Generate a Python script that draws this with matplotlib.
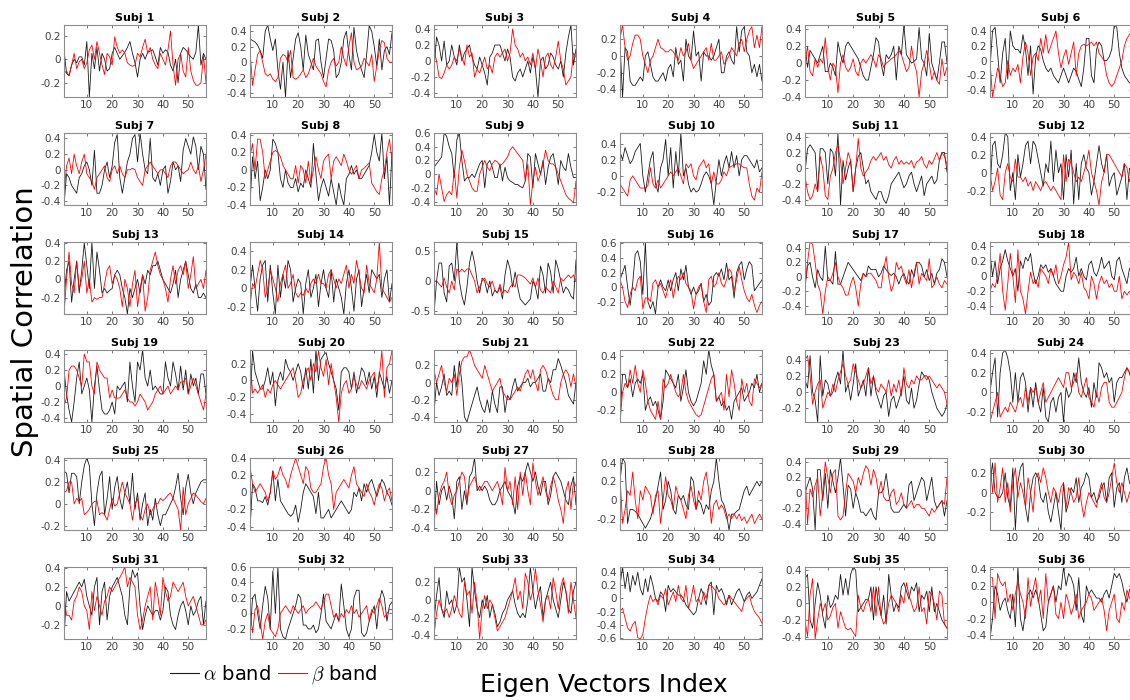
import numpy as np
import matplotlib
matplotlib.use("Agg")
import matplotlib.pyplot as plt
from matplotlib.ticker import MultipleLocator, FuncFormatter
from matplotlib.lines import Line2D

plt.rcParams['mathtext.fontset'] = 'cm'
plt.rcParams['axes.unicode_minus'] = False

# spatial correlation per eigen vector (1..57), alpha band / beta band, per subject
alpha_01 = [0.08,-0.12,-0.14,-0.05,0.0,-0.03,0.02,0.02,-0.05,0.15,-0.32,0.05,-0.08,0.1,-0.1,0.05,0.0,-0.1,-0.08,0.05,0.1,0.05,0.0,0.03,0.06,0.1,0.15,0.05,-0.03,-0.15,0.0,0.05,0.0,0.06,0.07,0.08,0.02,-0.05,0.1,0.05,0.08,0.06,-0.05,-0.1,0.0,-0.2,0.05,0.1,0.08,0.05,0.02,0.0,0.06,0.29,-0.05,0.05,0.0]
beta_01 = [-0.12,-0.1,-0.14,-0.05,0.05,-0.08,-0.02,0.0,-0.08,-0.03,0.08,0.12,0.0,0.15,0.05,-0.05,-0.13,0.05,0.02,-0.05,0.19,0.1,0.05,0.08,0.05,-0.03,-0.05,-0.06,-0.05,0.05,0.02,0.1,0.17,0.05,0.1,0.0,-0.05,-0.08,0.05,0.0,-0.05,0.08,0.24,-0.05,-0.22,0.0,0.05,-0.1,-0.15,0.1,-0.1,-0.18,-0.22,-0.22,-0.2,0.03,-0.2]
alpha_02 = [0.3,0.28,0.26,0.22,0.15,0.05,0.4,0.48,0.3,0.15,0.3,-0.1,-0.35,0.0,-0.45,0.15,-0.2,0.05,0.3,0.38,0.2,-0.1,0.35,0.1,0.0,-0.1,0.28,0.3,0.0,-0.2,0.05,0.3,0.28,0.15,-0.2,-0.15,0.0,0.3,0.4,0.1,-0.1,0.45,0.15,0.0,-0.1,-0.2,0.1,0.47,0.4,0.2,-0.05,0.3,-0.1,0.15,0.2,0.1,0.38]
beta_02 = [0.15,-0.3,-0.1,0.1,0.15,0.0,-0.15,-0.18,-0.15,-0.22,-0.25,-0.2,0.05,0.1,0.08,0.0,0.15,-0.2,-0.22,-0.2,-0.15,-0.1,-0.2,-0.15,-0.05,0.05,-0.05,-0.1,-0.15,-0.25,-0.32,-0.1,0.0,0.05,-0.05,0.0,0.2,0.05,-0.05,0.2,0.38,0.0,-0.1,-0.08,-0.05,0.05,0.0,-0.05,0.1,-0.25,-0.05,0.15,0.28,0.25,0.05,0.0,0.0]
alpha_03 = [-0.1,0.3,0.2,0.0,0.25,-0.05,0.0,0.2,0.05,-0.05,0.2,0.0,0.1,0.15,0.2,0.05,-0.05,-0.1,0.05,-0.05,-0.15,-0.3,0.05,0.1,0.2,0.2,0.2,0.1,0.0,0.15,0.05,-0.2,-0.25,-0.15,-0.1,-0.2,-0.1,0.0,-0.15,0.05,-0.1,-0.45,0.0,0.05,-0.1,-0.05,0.1,0.05,-0.05,-0.1,0.0,-0.2,0.1,0.3,0.45,-0.05,0.15]
beta_03 = [0.15,0.0,-0.2,-0.22,-0.15,-0.05,-0.1,-0.05,0.05,0.0,0.15,0.05,-0.05,0.2,0.05,0.1,-0.2,-0.1,-0.15,-0.05,0.05,-0.1,-0.05,-0.15,0.05,0.1,0.05,0.1,0.15,0.0,0.1,0.4,0.2,0.15,0.05,0.1,0.0,0.05,-0.05,0.1,-0.1,0.15,0.0,-0.2,0.05,0.1,-0.05,-0.1,0.05,0.25,0.0,-0.1,-0.3,-0.25,-0.2,0.1,0.05]
alpha_04 = [0.15,-0.49,0.1,0.05,-0.3,-0.35,-0.35,-0.3,-0.25,-0.3,0.0,0.05,-0.1,-0.25,-0.3,-0.3,-0.25,-0.2,-0.3,-0.15,-0.1,-0.25,0.1,-0.1,-0.05,-0.3,0.2,0.0,-0.05,0.3,0.0,0.05,-0.3,0.05,0.0,0.0,-0.05,0.0,0.1,0.2,-0.2,-0.2,0.0,0.05,-0.05,-0.1,0.35,0.05,0.3,0.35,0.05,0.0,-0.2,-0.1,-0.25,-0.1,-0.3]
beta_04 = [0.2,0.37,0.1,-0.05,0.0,0.15,0.25,0.25,0.2,0.0,-0.1,-0.2,-0.05,0.0,0.1,0.2,0.1,0.08,0.05,0.05,0.08,0.05,0.0,-0.05,0.1,0.0,0.05,0.15,-0.05,-0.15,-0.1,-0.05,0.0,0.05,0.1,-0.05,0.15,-0.05,-0.05,0.0,0.05,-0.1,-0.05,0.0,0.1,0.05,0.0,0.15,0.2,0.05,0.2,0.3,0.35,0.1,0.25,0.1,0.35]
alpha_05 = [0.2,-0.05,0.15,0.1,0.05,0.0,0.1,0.2,-0.1,-0.1,0.0,-0.05,-0.15,0.25,0.1,0.0,0.2,0.25,0.2,0.15,0.1,0.05,-0.05,-0.15,-0.2,-0.2,-0.05,0.1,0.3,0.25,0.0,-0.15,0.1,0.05,0.1,0.2,-0.2,0.2,0.1,0.45,0.1,0.05,0.0,0.02,0.05,0.42,0.05,0.0,-0.15,0.35,0.0,-0.1,-0.2,0.0,0.25,0.25,0.0]
beta_05 = [0.0,0.2,-0.1,-0.15,0.05,-0.05,0.05,0.0,0.3,-0.05,-0.2,0.0,-0.05,-0.35,0.0,0.1,-0.05,-0.1,-0.05,0.05,-0.1,-0.15,0.0,0.05,0.0,0.05,0.1,0.05,-0.05,0.1,0.05,-0.05,0.0,0.02,0.05,0.07,0.1,0.15,0.1,0.0,-0.1,-0.05,0.2,0.0,-0.1,-0.4,-0.1,0.0,0.15,0.0,-0.2,-0.1,-0.2,-0.25,0.05,-0.15,-0.05]
alpha_06 = [-0.1,0.4,0.45,0.1,-0.3,0.1,0.3,-0.25,0.4,0.2,0.15,0.15,0.1,0.35,0.15,-0.2,0.2,-0.45,0.05,0.2,0.15,0.0,-0.1,-0.15,-0.1,-0.2,-0.25,-0.3,-0.2,-0.1,-0.2,-0.3,-0.2,-0.1,-0.15,-0.25,-0.35,-0.1,0.3,0.3,-0.2,-0.3,0.15,0.25,0.2,0.0,0.0,0.05,0.15,0.48,0.45,0.1,-0.1,-0.2,-0.25,-0.3,-0.3]
beta_06 = [0.0,-0.49,-0.3,-0.1,-0.2,-0.35,-0.3,0.0,-0.2,-0.1,-0.15,-0.05,-0.3,0.05,0.25,0.1,-0.2,0.05,0.1,0.0,0.3,0.1,0.35,0.1,0.2,0.3,0.4,0.1,-0.1,0.05,0.15,-0.05,0.1,0.25,-0.2,0.1,0.2,0.22,0.2,0.22,0.25,0.2,0.25,0.1,0.05,0.0,-0.2,-0.3,-0.35,-0.3,-0.2,-0.1,0.0,0.2,0.3,0.35,0.4]
alpha_07 = [-0.45,-0.05,-0.1,-0.2,-0.25,-0.3,-0.1,-0.05,0.05,0.1,0.0,-0.2,0.25,-0.3,-0.3,-0.2,0.0,0.1,-0.1,0.05,0.35,0.45,-0.1,-0.3,-0.1,0.1,0.2,0.4,0.45,0.1,0.47,0.2,0.0,-0.05,0.4,-0.1,-0.15,-0.05,-0.2,0.0,0.05,-0.3,-0.15,0.1,0.0,0.05,-0.15,0.25,0.4,0.3,0.2,0.42,0.3,0.0,0.3,0.2,-0.25]
beta_07 = [-0.3,0.05,0.15,-0.05,0.2,0.05,-0.05,0.1,0.2,-0.05,-0.1,-0.15,-0.25,-0.1,-0.05,0.0,0.05,-0.1,-0.15,0.0,0.05,-0.05,0.05,-0.05,-0.1,0.0,0.0,0.02,0.0,-0.1,-0.15,-0.2,0.0,0.05,0.1,0.05,0.0,-0.05,0.0,0.0,-0.05,-0.1,0.05,0.1,0.1,0.05,0.0,-0.05,-0.02,0.0,0.1,0.0,-0.05,0.05,-0.15,0.0,0.2]
alpha_08 = [-0.4,0.15,-0.1,0.1,-0.35,-0.2,0.0,-0.1,0.0,0.35,0.3,0.2,-0.1,-0.2,0.0,-0.15,-0.2,-0.2,-0.1,-0.25,-0.15,-0.2,0.0,-0.1,-0.2,0.3,-0.05,-0.35,-0.2,-0.1,-0.2,-0.3,-0.1,-0.25,-0.4,-0.15,-0.3,-0.4,-0.1,-0.05,0.05,-0.05,0.0,-0.1,-0.1,-0.05,0.0,0.05,0.2,0.4,0.2,0.1,0.42,-0.1,0.15,-0.4,0.2]
beta_08 = [0.15,0.3,0.0,0.35,0.35,0.2,-0.1,0.0,0.1,0.2,0.22,0.2,0.15,0.05,0.0,-0.05,-0.1,-0.1,0.05,-0.15,0.05,0.0,-0.15,0.1,-0.15,0.0,0.15,0.0,-0.1,0.1,0.15,0.18,-0.1,0.1,0.15,0.1,0.05,0.18,0.1,0.0,-0.05,0.0,0.05,-0.1,0.0,0.02,0.05,0.08,-0.15,-0.2,-0.25,-0.28,-0.1,0.0,0.2,0.35,0.1]
alpha_09 = [0.1,0.15,0.2,0.25,0.6,0.55,0.4,0.3,-0.05,0.5,0.6,0.2,-0.1,-0.05,-0.05,0.0,-0.05,0.05,0.15,0.2,-0.2,0.15,0.2,0.1,-0.05,-0.05,0.15,-0.1,0.1,-0.05,-0.1,-0.12,-0.15,-0.15,-0.18,-0.2,-0.1,0.3,0.25,-0.2,0.3,0.15,0.0,0.2,-0.15,0.1,0.25,0.3,0.1,-0.15,0.2,0.1,0.05,0.3,0.1,-0.05,-0.05]
beta_09 = [-0.2,-0.3,0.0,-0.2,-0.4,-0.3,-0.25,-0.3,0.05,-0.35,0.1,0.35,0.2,0.0,-0.1,-0.2,-0.25,-0.25,0.0,0.1,0.2,0.1,0.05,0.15,0.2,0.18,0.12,0.15,0.2,0.25,0.35,0.4,0.35,0.3,0.25,0.2,-0.1,0.15,-0.45,-0.1,0.1,-0.1,0.0,0.15,0.35,0.2,0.15,0.15,0.1,0.0,-0.1,-0.2,-0.3,-0.35,-0.38,-0.42,-0.1]
alpha_10 = [0.3,0.2,0.35,0.25,0.15,0.2,0.3,0.35,0.4,0.0,-0.2,0.0,0.2,0.3,-0.1,-0.2,0.1,0.2,0.45,0.0,0.35,-0.15,0.3,0.0,0.53,0.0,0.1,-0.1,-0.2,-0.15,-0.2,-0.18,-0.1,0.0,0.05,0.0,-0.1,-0.36,-0.05,0.2,0.0,0.15,0.25,0.1,0.3,0.1,0.25,0.0,0.2,0.25,0.25,0.2,0.15,0.1,0.2,0.05,0.1]
beta_10 = [-0.1,-0.15,-0.2,-0.25,-0.05,0.0,-0.05,-0.1,-0.15,-0.15,-0.15,-0.12,0.1,-0.1,-0.15,-0.05,-0.15,-0.1,-0.05,0.0,0.05,0.0,0.05,0.1,0.0,-0.1,0.15,0.1,0.15,0.0,-0.05,0.1,0.15,0.2,0.1,0.15,-0.1,0.05,-0.1,-0.1,-0.05,0.05,0.0,0.1,0.12,0.13,0.15,0.15,0.12,0.1,0.1,-0.1,-0.25,-0.3,-0.15,-0.2,0.05]
alpha_11 = [-0.05,0.25,0.3,0.25,0.2,-0.3,0.25,0.25,0.2,-0.2,0.25,0.2,-0.1,0.45,-0.47,0.1,-0.15,0.0,0.1,-0.3,0.0,0.15,0.2,0.0,-0.2,-0.15,-0.3,-0.35,-0.4,-0.3,-0.3,-0.4,-0.45,-0.35,-0.2,-0.15,-0.1,-0.05,-0.15,-0.25,-0.2,-0.1,-0.05,-0.2,-0.3,-0.2,-0.1,-0.35,-0.2,-0.15,-0.1,-0.2,-0.15,0.1,0.2,0.2,-0.05]
beta_11 = [-0.1,-0.3,-0.4,-0.35,-0.2,-0.3,0.15,0.0,-0.35,-0.4,-0.1,0.0,0.2,0.3,0.1,-0.2,0.0,0.2,0.1,-0.3,0.0,0.38,0.0,-0.1,-0.05,0.0,0.1,0.15,0.1,0.15,0.2,0.1,0.15,0.05,0.0,0.1,0.15,0.05,0.1,0.05,0.08,0.05,0.1,0.0,0.08,0.1,0.15,0.05,0.0,0.1,0.05,0.12,0.2,0.1,0.2,0.15,0.05]
alpha_12 = [-0.2,0.3,0.35,0.1,0.05,0.2,0.44,0.4,-0.2,0.0,-0.3,0.2,-0.05,0.1,0.3,0.35,0.1,0.35,0.3,0.15,0.0,-0.15,0.1,0.0,0.35,-0.1,0.25,0.0,0.1,-0.3,0.2,-0.05,0.25,-0.35,0.1,-0.3,0.1,0.2,0.05,0.0,-0.25,-0.1,0.1,0.3,0.1,0.0,0.2,-0.15,-0.05,0.0,-0.25,-0.15,-0.05,0.1,-0.3,0.05,0.0]
beta_12 = [0.0,-0.2,-0.1,0.05,-0.25,-0.3,0.0,0.1,-0.05,-0.1,0.15,-0.05,-0.05,-0.1,-0.05,-0.15,-0.1,-0.2,-0.1,-0.15,-0.2,-0.12,-0.1,-0.15,-0.2,-0.15,-0.2,-0.25,-0.3,0.2,-0.1,0.15,0.1,0.0,-0.1,-0.05,-0.1,0.0,0.1,0.25,0.0,-0.1,-0.2,-0.36,-0.1,0.0,0.2,0.2,0.15,0.1,0.05,0.0,-0.05,0.1,0.05,-0.1,0.0]
alpha_13 = [-0.2,0.1,0.2,-0.25,0.0,0.2,-0.15,0.1,0.4,0.15,-0.1,0.41,-0.1,0.3,0.1,-0.15,-0.1,-0.15,-0.12,-0.1,0.05,0.1,0.05,-0.1,-0.2,-0.38,-0.1,-0.2,-0.1,0.0,-0.15,0.05,-0.05,0.1,0.05,0.15,0.15,0.2,0.1,0.0,-0.05,-0.1,-0.15,-0.05,0.1,-0.2,0.0,0.1,0.2,0.05,-0.1,-0.15,-0.05,-0.2,-0.2,-0.15,-0.2]
beta_13 = [-0.38,0.0,0.3,-0.05,-0.15,0.2,-0.1,0.0,0.2,-0.15,0.0,-0.25,-0.2,-0.22,-0.2,-0.2,-0.05,0.1,0.15,-0.05,0.05,0.0,-0.1,-0.3,0.0,-0.1,-0.3,-0.05,0.1,-0.3,-0.1,0.05,-0.35,-0.2,0.1,0.2,0.3,0.15,0.05,0.0,-0.1,-0.25,0.0,0.15,-0.05,0.1,0.15,0.05,0.2,-0.1,0.05,0.25,-0.1,-0.05,0.0,-0.1,0.1]
alpha_14 = [0.0,0.25,0.0,-0.25,0.1,0.25,0.3,-0.15,0.25,-0.05,-0.28,0.25,-0.1,0.15,0.0,0.3,0.2,-0.15,0.0,0.1,0.05,-0.28,0.05,0.2,-0.1,0.0,0.15,-0.2,0.05,0.2,0.0,-0.1,0.2,-0.15,0.1,0.0,-0.1,-0.28,0.05,0.2,0.0,-0.25,0.1,0.2,-0.2,0.0,0.15,-0.05,0.2,0.15,0.1,0.15,-0.1,0.1,0.2,-0.15,0.05]
beta_14 = [-0.2,0.05,0.0,0.15,0.3,0.2,-0.1,0.0,0.2,0.1,0.0,-0.15,0.05,0.15,0.25,0.0,0.05,0.15,-0.05,-0.1,-0.05,-0.08,0.0,-0.05,0.05,0.1,0.05,0.15,0.05,0.05,0.0,0.15,0.2,0.1,0.0,0.1,0.05,0.15,0.25,0.0,0.15,0.05,0.3,0.15,0.0,-0.05,0.25,0.05,0.0,-0.05,0.1,0.5,0.0,-0.05,-0.1,-0.15,-0.1]
alpha_15 = [-0.55,0.0,0.3,0.3,-0.2,-0.35,0.25,0.3,0.0,0.65,0.0,-0.25,-0.4,-0.1,0.3,0.5,0.3,0.0,-0.2,0.05,0.0,-0.2,0.0,-0.25,-0.15,-0.2,-0.1,-0.3,0.1,0.35,0.2,-0.1,0.15,-0.1,-0.3,-0.35,-0.4,-0.35,-0.3,0.0,-0.1,-0.3,0.25,0.1,-0.2,0.3,0.15,-0.2,0.35,0.2,0.0,-0.2,-0.1,-0.15,-0.25,-0.3,0.35]
beta_15 = [0.0,0.0,-0.05,-0.1,0.05,-0.1,-0.2,0.0,-0.15,0.2,0.15,0.2,0.15,0.2,0.2,0.1,0.0,-0.2,-0.1,0.0,0.05,-0.05,-0.1,0.0,-0.15,-0.2,-0.05,-0.2,-0.15,-0.2,-0.1,-0.05,-0.1,0.1,0.1,0.08,0.05,0.0,-0.05,0.05,-0.1,0.05,-0.15,-0.2,-0.1,-0.15,-0.2,0.0,-0.1,-0.2,0.05,0.0,0.05,0.1,0.05,0.1,0.0]
alpha_16 = [0.1,0.2,0.3,0.0,-0.25,0.05,0.45,0.5,0.35,-0.1,0.62,-0.2,-0.3,-0.2,-0.37,0.0,0.1,0.0,-0.05,0.1,-0.05,0.1,0.2,-0.05,0.25,0.1,0.3,0.0,-0.1,0.0,-0.1,-0.05,0.05,-0.2,-0.1,-0.25,-0.2,0.15,0.2,0.15,0.25,0.1,0.33,0.1,0.15,-0.15,0.2,0.3,0.35,0.1,0.25,0.35,0.3,-0.05,0.0,0.05,0.1]
beta_16 = [0.1,0.0,-0.2,-0.28,-0.1,0.0,-0.05,0.1,0.15,-0.3,-0.15,-0.15,-0.2,0.05,0.1,0.0,0.05,-0.05,-0.15,0.0,0.1,-0.15,0.05,0.15,0.1,0.2,0.05,0.0,-0.05,-0.3,-0.1,0.0,0.05,-0.2,-0.35,0.1,0.15,0.0,0.05,0.2,0.05,0.0,0.1,0.25,0.2,-0.05,0.1,0.28,0.1,-0.05,-0.15,-0.2,-0.1,-0.25,-0.35,-0.25,-0.2]
alpha_17 = [-0.15,0.15,0.2,0.0,-0.15,0.1,0.0,-0.05,0.42,-0.05,-0.05,-0.1,0.35,-0.1,-0.1,0.0,0.1,0.2,0.15,0.1,0.05,0.0,-0.05,0.05,0.0,0.15,0.1,0.1,0.1,0.0,0.05,0.15,0.1,0.05,0.02,0.05,0.0,-0.1,0.0,0.05,-0.05,-0.1,0.1,0.0,0.2,0.2,0.15,0.0,0.1,-0.05,0.05,-0.1,0.05,0.1,0.25,0.2,0.0]
beta_17 = [-0.1,0.2,0.48,0.45,0.2,-0.1,-0.2,-0.51,-0.2,0.0,-0.05,0.05,0.2,0.0,-0.1,-0.15,-0.25,-0.25,-0.1,0.0,-0.15,-0.4,-0.1,0.05,0.0,0.05,0.05,0.0,-0.05,-0.15,-0.15,0.1,0.28,0.0,-0.2,-0.1,0.2,0.1,0.15,0.0,-0.1,0.1,-0.15,0.05,0.2,-0.1,0.05,0.0,-0.05,0.25,-0.15,-0.1,0.0,-0.1,-0.15,-0.05,-0.1]
alpha_18 = [0.3,0.0,0.2,-0.1,0.1,0.2,0.35,0.2,0.1,0.0,0.1,-0.2,0.2,0.1,0.25,0.2,0.3,0.05,-0.1,0.0,0.15,0.1,0.15,0.05,0.1,0.0,-0.1,-0.15,-0.2,-0.2,0.0,0.1,0.05,0.1,0.25,0.0,0.1,0.0,-0.05,0.15,0.2,0.05,0.0,0.1,0.25,0.1,0.15,0.2,0.0,-0.05,0.2,0.25,0.1,0.0,-0.1,0.1,0.05]
beta_18 = [-0.2,-0.1,-0.15,0.0,0.3,-0.2,-0.45,-0.1,0.3,0.0,-0.35,0.35,-0.2,-0.3,-0.5,-0.2,0.05,-0.1,-0.05,-0.15,0.1,0.05,0.0,-0.1,0.1,0.0,0.15,-0.1,0.0,0.15,0.25,0.45,-0.05,0.05,0.0,-0.1,0.05,-0.15,-0.2,-0.3,0.0,-0.1,-0.3,-0.1,0.0,-0.1,-0.05,-0.15,-0.1,-0.2,-0.2,0.0,-0.3,-0.2,-0.25,-0.2,-0.25]
alpha_19 = [0.2,-0.1,-0.3,-0.45,-0.2,0.1,0.3,-0.1,0.0,0.1,-0.05,-0.45,0.0,0.25,-0.05,-0.3,-0.35,-0.35,-0.3,-0.2,-0.35,0.0,-0.05,0.0,0.05,-0.2,0.3,0.0,-0.2,0.3,0.2,0.45,0.1,0.0,0.2,-0.05,0.0,-0.05,-0.1,-0.1,0.3,0.1,0.0,0.3,0.15,-0.05,0.25,-0.05,0.2,-0.1,0.15,0.0,0.1,-0.1,0.15,0.15,-0.1]
beta_19 = [-0.25,-0.15,0.2,0.25,0.25,0.2,0.1,0.0,0.4,0.3,0.3,0.0,-0.1,0.3,0.2,0.15,0.1,0.1,-0.15,-0.05,-0.15,-0.15,-0.15,-0.1,-0.05,-0.15,-0.2,-0.2,-0.25,-0.2,-0.1,-0.15,-0.2,-0.3,-0.25,-0.2,-0.1,-0.05,0.0,-0.1,-0.05,0.0,-0.1,-0.05,0.0,-0.05,0.05,0.05,0.1,-0.1,0.0,0.1,0.0,-0.1,-0.2,-0.3,-0.1]
alpha_20 = [-0.35,0.35,0.1,0.0,-0.1,-0.1,0.0,0.15,-0.05,0.1,-0.3,0.0,0.1,0.0,0.25,0.15,0.1,0.0,0.1,0.2,0.1,-0.1,0.15,-0.1,0.25,-0.15,0.36,0.0,0.25,0.3,0.33,0.2,0.1,0.0,-0.1,-0.35,0.1,0.15,0.15,0.1,-0.1,0.1,-0.15,0.0,0.15,0.1,-0.05,0.1,-0.1,0.05,-0.2,0.1,0.0,-0.1,0.05,-0.15,0.0]
beta_20 = [0.3,-0.15,-0.1,-0.15,-0.1,-0.05,-0.2,-0.1,-0.15,-0.05,0.0,-0.05,-0.1,-0.05,0.0,0.05,0.1,0.15,0.0,-0.2,-0.15,0.0,0.1,0.15,0.0,0.2,0.1,0.35,0.15,0.05,0.25,-0.05,0.2,0.0,-0.2,-0.49,-0.15,-0.05,0.0,-0.15,-0.1,0.05,-0.05,-0.1,0.0,-0.05,-0.1,0.0,0.05,0.1,-0.1,0.05,0.35,-0.2,0.15,0.2,0.35]
alpha_21 = [-0.35,0.0,-0.15,-0.05,0.1,-0.15,-0.1,-0.15,0.2,-0.05,0.25,0.0,-0.4,-0.46,-0.35,-0.25,-0.15,-0.05,-0.2,-0.3,-0.35,-0.2,-0.35,-0.1,-0.25,-0.35,-0.05,-0.05,-0.35,-0.15,-0.2,-0.05,0.05,-0.1,-0.05,0.0,0.0,0.05,-0.05,0.0,0.0,0.05,0.1,-0.1,-0.1,0.05,0.0,0.15,0.15,0.28,0.2,0.1,0.0,-0.15,-0.2,-0.25,0.0]
beta_21 = [0.15,0.0,0.1,0.2,0.0,-0.1,0.05,0.0,0.1,-0.15,0.1,0.25,0.3,0.3,0.38,0.3,0.2,0.15,0.1,0.05,0.2,0.1,0.0,-0.1,-0.05,0.0,0.05,-0.1,-0.15,-0.2,-0.2,-0.15,-0.1,-0.05,-0.1,0.0,0.1,0.15,0.05,0.15,0.0,-0.1,0.15,0.2,0.15,0.05,-0.05,-0.15,-0.2,-0.2,0.0,0.1,0.15,0.1,-0.05,0.1,-0.05]
alpha_22 = [-0.3,0.2,0.2,0.05,0.15,-0.05,0.1,0.15,0.1,0.2,-0.2,-0.1,-0.05,-0.15,-0.1,-0.2,-0.3,-0.1,0.25,0.2,0.15,0.1,0.05,0.2,-0.1,0.05,0.25,0.0,-0.1,-0.15,-0.1,0.0,0.1,0.35,0.2,0.47,0.3,0.2,-0.1,-0.05,-0.15,-0.1,-0.2,-0.15,-0.3,-0.1,-0.05,0.0,0.05,-0.1,-0.05,0.0,0.1,0.05,0.2,0.0,0.1]
beta_22 = [-0.33,0.0,0.1,0.05,0.25,0.1,0.3,0.1,0.0,0.25,0.1,-0.1,-0.2,-0.25,-0.3,-0.1,-0.3,0.15,0.05,0.1,0.2,0.1,0.0,-0.05,0.0,0.2,0.0,-0.1,-0.15,-0.2,-0.25,-0.27,-0.25,-0.15,-0.05,0.05,0.15,0.2,-0.1,-0.05,0.0,-0.2,0.2,-0.05,0.25,0.1,-0.1,-0.2,0.15,0.0,0.1,-0.1,-0.15,0.15,0.1,0.05,0.1]
alpha_23 = [0.15,0.05,0.45,0.0,-0.1,-0.37,0.45,-0.05,0.15,0.1,-0.05,0.0,0.15,0.25,0.1,0.52,0.0,0.1,-0.1,0.1,0.35,-0.05,0.05,0.15,-0.05,0.3,-0.05,0.2,0.0,-0.1,-0.2,-0.05,0.0,-0.3,-0.1,-0.05,-0.2,-0.1,0.0,0.2,-0.1,-0.15,0.05,-0.2,-0.1,0.1,0.25,0.2,0.2,0.15,0.0,-0.1,-0.2,-0.25,-0.3,-0.25,-0.15]
beta_23 = [0.4,0.45,0.2,-0.15,0.0,0.1,0.15,-0.2,-0.1,0.0,-0.05,0.1,0.0,0.15,0.25,0.35,0.2,0.1,0.15,0.35,0.25,0.15,0.05,0.1,0.2,0.3,0.1,0.2,0.05,0.0,0.1,0.05,0.0,0.15,-0.05,0.1,0.0,0.15,-0.05,0.3,0.1,0.05,0.15,0.1,0.2,0.15,0.15,0.2,0.15,0.2,0.15,0.1,0.05,0.1,0.05,0.0,-0.15]
alpha_24 = [0.0,0.2,0.35,-0.25,0.2,0.4,0.43,0.35,0.2,-0.1,0.2,-0.1,0.15,0.2,0.1,-0.2,0.05,-0.15,0.1,-0.1,-0.2,0.05,-0.25,-0.3,-0.1,-0.05,-0.2,-0.05,0.0,-0.3,0.05,-0.05,0.0,0.2,0.1,0.35,0.1,0.0,-0.05,0.05,-0.15,0.1,-0.05,0.3,0.25,0.15,0.2,0.1,0.15,-0.1,0.1,0.15,0.15,0.2,0.25,0.2,0.1]
beta_24 = [-0.3,-0.2,-0.1,0.0,-0.25,-0.2,-0.15,-0.2,-0.1,-0.15,-0.2,-0.1,-0.05,-0.15,0.05,-0.1,0.05,0.0,0.05,-0.1,0.0,0.1,-0.1,-0.05,0.0,0.05,0.1,0.15,0.1,0.05,0.2,0.2,0.05,0.1,0.2,0.0,-0.05,0.05,0.15,-0.05,-0.1,-0.15,0.0,-0.1,0.05,0.1,0.1,-0.1,-0.15,-0.15,-0.1,-0.05,0.0,0.15,0.25,0.2,0.1]
alpha_25 = [0.3,0.28,0.1,0.28,0.28,0.25,0.0,0.2,0.35,0.42,0.35,0.0,-0.2,0.1,0.25,0.3,-0.1,0.05,0.25,-0.05,0.15,0.25,0.05,-0.05,0.1,0.2,0.0,0.28,-0.05,0.1,-0.15,0.0,0.1,-0.2,-0.05,-0.15,0.05,-0.1,-0.2,-0.1,-0.1,-0.05,0.0,0.05,0.15,0.28,0.05,-0.1,0.15,0.27,0.1,0.0,0.1,0.15,0.2,0.22,0.22]
beta_25 = [0.1,0.12,0.2,0.2,0.0,0.05,0.02,0.05,-0.1,-0.08,-0.05,0.0,0.02,0.03,-0.1,-0.08,-0.1,-0.15,-0.05,0.05,-0.02,0.0,0.1,0.2,0.1,0.05,0.0,-0.15,0.0,0.05,-0.1,-0.15,-0.05,0.0,-0.1,-0.05,0.0,0.0,0.05,0.03,0.05,0.08,0.1,0.05,0.0,-0.05,-0.24,0.15,-0.1,0.0,0.05,0.1,0.08,0.05,0.02,0.0,0.05]
alpha_26 = [-0.44,0.1,0.05,-0.1,-0.1,-0.12,-0.05,-0.15,0.0,0.25,-0.1,0.15,-0.1,-0.15,-0.2,-0.25,-0.28,-0.25,-0.15,-0.35,-0.2,0.0,0.1,0.05,0.0,-0.05,-0.25,0.0,-0.3,-0.3,-0.25,-0.2,-0.3,-0.25,-0.2,-0.15,-0.1,-0.15,-0.2,-0.25,-0.2,0.0,-0.05,0.05,-0.1,0.1,0.0,0.1,0.15,0.05,-0.05,0.05,0.15,0.1,0.0,-0.05,-0.15]
beta_26 = [0.3,0.1,0.0,0.05,0.1,0.05,0.0,-0.1,0.0,0.25,0.15,0.2,0.3,0.2,0.15,0.05,0.2,0.3,0.4,0.3,0.2,0.1,0.3,0.25,0.05,0.0,0.0,0.05,0.1,0.3,0.4,0.2,0.1,-0.2,0.0,0.05,0.1,0.15,0.1,0.05,0.2,0.3,0.1,0.05,0.0,-0.05,0.1,0.0,-0.05,-0.15,0.0,0.1,0.05,-0.1,0.0,0.05,-0.1]
alpha_27 = [-0.42,0.1,-0.15,0.0,0.05,-0.1,0.05,-0.05,-0.3,0.1,0.15,-0.2,0.0,-0.15,0.15,0.2,0.35,0.0,0.05,0.0,0.05,0.0,-0.1,-0.15,-0.15,-0.1,0.0,0.05,0.1,0.0,-0.05,-0.1,-0.25,0.05,0.15,0.1,0.2,0.3,0.2,0.1,0.2,0.05,-0.05,0.1,0.1,-0.15,-0.05,0.15,0.2,0.15,0.1,0.0,-0.1,-0.15,0.05,0.15,-0.15]
beta_27 = [0.05,-0.25,-0.05,0.05,0.1,0.2,-0.05,-0.15,-0.05,0.0,0.1,0.2,0.15,-0.1,0.05,0.1,0.15,0.05,0.0,0.05,0.1,0.1,0.05,0.0,0.05,0.1,0.0,-0.15,0.25,0.0,0.1,-0.15,0.15,-0.2,0.2,-0.05,0.2,0.0,-0.15,0.3,0.1,-0.05,0.05,0.15,0.0,-0.1,0.05,0.15,0.05,-0.1,-0.2,-0.35,0.0,0.1,-0.2,0.1,0.05]
alpha_28 = [0.2,0.45,0.4,-0.25,-0.1,-0.1,-0.12,-0.15,-0.2,-0.25,-0.3,-0.25,-0.2,-0.1,0.0,0.15,0.3,-0.1,0.0,0.2,0.1,-0.1,-0.15,0.05,0.0,0.05,-0.05,-0.1,0.25,0.2,-0.1,0.0,-0.05,-0.15,-0.05,-0.1,0.1,0.2,0.45,0.2,0.0,-0.05,-0.15,-0.32,-0.15,-0.15,-0.12,-0.1,0.0,0.1,0.15,0.05,0.1,0.15,0.2,0.15,0.2]
beta_28 = [0.25,-0.25,-0.1,0.1,0.05,0.3,0.0,-0.2,0.1,0.0,0.15,0.1,0.05,-0.15,0.05,0.1,-0.25,0.0,0.25,0.05,0.0,-0.1,0.15,0.05,0.0,-0.1,-0.2,0.05,0.15,0.0,-0.1,0.1,0.0,0.2,0.3,0.1,-0.25,-0.05,0.0,-0.1,-0.05,-0.1,-0.2,-0.15,-0.2,-0.15,-0.2,-0.15,-0.22,-0.18,-0.25,-0.2,-0.15,-0.25,-0.2,-0.15,-0.2]
alpha_29 = [0.0,0.1,0.2,0.05,-0.48,0.3,0.3,-0.1,0.25,-0.2,0.3,0.15,0.0,0.2,0.45,0.1,-0.3,0.1,0.05,-0.2,0.0,-0.1,-0.25,-0.25,-0.3,-0.25,-0.2,-0.3,-0.35,0.0,0.0,0.05,0.25,0.0,-0.2,-0.25,-0.25,-0.25,-0.2,-0.15,-0.2,0.1,0.15,-0.1,0.0,0.1,0.2,0.15,-0.1,0.05,0.2,-0.1,-0.2,-0.15,-0.1,-0.3,-0.1]
beta_29 = [0.25,-0.4,0.05,-0.05,0.1,0.2,-0.3,0.0,0.4,0.2,0.0,0.25,0.3,-0.3,-0.35,-0.3,0.0,0.25,0.2,0.15,0.0,0.2,0.1,0.25,0.35,0.3,0.1,0.3,0.2,0.0,0.15,-0.05,-0.1,-0.1,0.0,0.05,-0.15,-0.1,0.0,-0.15,-0.2,-0.15,-0.1,-0.2,-0.15,-0.15,-0.2,-0.2,-0.25,-0.3,-0.2,-0.25,-0.2,-0.15,-0.1,-0.15,0.2]
alpha_30 = [0.1,0.3,0.0,-0.05,-0.05,0.0,0.2,-0.05,-0.15,0.25,-0.38,0.1,0.25,0.3,-0.15,-0.3,0.0,0.15,0.2,0.15,-0.05,-0.1,0.0,-0.2,-0.3,-0.15,0.0,-0.2,-0.38,0.1,-0.2,-0.1,0.05,0.0,0.15,-0.1,0.05,0.1,0.2,0.15,-0.05,0.0,-0.1,-0.05,0.05,0.1,-0.1,0.15,0.2,-0.15,0.05,0.1,-0.1,0.15,0.25,0.1,0.05]
beta_30 = [0.35,0.0,0.3,-0.1,0.05,0.25,-0.1,0.1,-0.2,0.1,0.25,-0.05,0.1,0.0,-0.15,0.15,0.0,-0.2,0.15,0.2,0.1,0.25,0.15,0.0,-0.1,0.05,0.0,-0.1,0.05,0.1,-0.15,0.05,0.0,-0.1,-0.05,0.15,-0.1,-0.25,-0.1,0.0,-0.05,-0.1,-0.15,0.0,0.1,-0.05,-0.1,0.0,0.15,0.3,0.1,0.0,0.1,0.0,-0.1,0.0,0.05]
alpha_31 = [-0.35,0.15,0.05,0.1,0.15,0.2,0.25,0.2,0.28,0.1,0.0,-0.1,0.2,0.3,-0.2,0.15,0.25,-0.15,0.1,0.2,0.25,0.3,0.2,0.1,-0.1,-0.2,0.2,0.38,0.3,0.35,0.0,-0.25,-0.1,0.0,-0.05,-0.1,-0.05,-0.05,-0.15,-0.05,0.2,0.15,-0.1,-0.2,-0.25,-0.1,0.0,0.05,-0.05,-0.2,0.0,-0.1,-0.05,0.05,0.1,-0.2,0.05]
beta_31 = [0.1,-0.1,-0.1,-0.15,0.05,0.1,0.2,0.15,0.0,-0.05,-0.25,0.15,-0.05,0.1,0.0,-0.1,0.05,0.1,0.2,0.15,0.2,0.25,0.3,0.35,0.41,0.2,0.3,0.25,0.2,-0.1,-0.25,-0.15,0.0,0.1,0.2,-0.15,0.25,0.1,-0.1,0.3,0.15,0.05,0.1,0.25,0.2,0.15,0.2,0.25,0.1,0.0,0.05,0.1,0.0,-0.1,-0.2,-0.2,-0.15]
alpha_32 = [-0.3,0.2,0.25,0.0,-0.2,0.1,0.35,0.2,-0.2,0.55,0.0,0.6,-0.2,-0.3,-0.33,-0.2,-0.1,0.0,0.1,0.25,0.2,-0.15,-0.15,-0.2,-0.2,-0.15,-0.25,-0.2,0.0,0.25,-0.1,-0.15,-0.2,-0.1,0.0,-0.1,0.38,0.1,-0.2,-0.3,-0.2,0.2,0.3,0.3,-0.25,-0.3,-0.25,-0.1,0.0,0.1,-0.2,0.15,0.3,0.2,-0.1,0.1,0.15]
beta_32 = [0.05,-0.25,0.05,0.1,-0.1,-0.33,-0.1,0.0,-0.2,-0.25,-0.3,-0.2,0.0,0.05,0.1,0.05,0.0,0.1,0.05,0.0,0.05,0.1,0.0,0.05,0.08,0.1,0.15,0.1,0.05,0.15,0.25,0.25,0.1,-0.05,0.0,-0.1,0.0,-0.05,0.05,0.0,0.1,0.0,0.05,-0.05,0.0,0.05,0.1,-0.1,0.05,0.0,0.1,0.2,0.1,-0.05,0.0,0.05,0.05]
alpha_33 = [-0.25,0.05,0.25,-0.1,-0.2,0.1,-0.05,0.0,-0.15,-0.05,0.37,0.2,0.25,0.0,-0.3,0.37,0.1,-0.1,-0.2,0.0,-0.1,0.05,-0.2,-0.05,-0.15,-0.3,-0.25,-0.15,-0.1,0.0,0.05,0.1,-0.05,-0.15,-0.2,-0.15,-0.2,0.0,0.37,0.1,-0.1,0.05,0.15,-0.2,0.0,0.1,0.2,0.0,-0.1,-0.2,0.0,0.2,0.1,-0.1,-0.15,0.1,0.2]
beta_33 = [-0.4,-0.15,0.0,-0.1,-0.15,-0.1,-0.2,-0.1,0.05,-0.05,-0.15,-0.2,0.2,0.05,0.1,-0.15,0.2,-0.05,-0.44,-0.1,0.05,-0.1,0.0,-0.05,-0.2,-0.35,-0.3,-0.25,-0.2,-0.1,0.0,0.1,0.25,0.0,0.1,-0.1,0.3,0.2,0.0,0.1,0.35,0.1,-0.05,-0.25,0.0,0.05,-0.1,0.25,0.1,-0.1,0.15,0.25,0.1,-0.15,0.2,0.0,-0.2]
alpha_34 = [0.2,0.48,0.15,0.4,0.1,0.35,0.2,0.4,0.15,0.05,0.3,0.1,0.35,0.2,0.0,-0.05,0.1,0.05,-0.2,0.2,0.1,0.15,0.1,0.05,0.05,0.0,-0.1,-0.15,-0.2,-0.25,-0.2,0.0,0.15,0.05,-0.1,0.2,0.25,-0.25,0.2,0.1,0.15,0.05,-0.1,0.05,-0.1,0.0,0.1,0.15,0.05,-0.05,0.05,0.1,0.0,0.05,0.1,0.2,0.3]
beta_34 = [-0.2,-0.15,-0.3,-0.45,-0.5,-0.4,-0.35,-0.6,-0.62,-0.55,-0.3,-0.1,0.05,-0.05,0.0,-0.1,0.05,0.0,0.15,-0.1,0.0,0.1,-0.05,0.2,0.0,-0.05,0.2,-0.15,0.0,0.2,-0.05,0.0,-0.1,0.1,0.0,0.2,0.2,0.15,0.1,0.0,-0.05,-0.1,-0.05,0.05,0.0,-0.05,-0.1,-0.15,-0.2,-0.05,0.0,0.05,-0.1,-0.2,-0.25,-0.3,-0.38]
alpha_35 = [0.3,0.35,-0.2,-0.3,0.0,0.25,0.1,-0.15,-0.3,0.1,-0.05,0.0,0.1,0.05,0.35,0.1,0.3,0.1,0.35,0.44,0.4,-0.1,-0.05,0.0,0.05,0.05,0.2,-0.2,0.2,0.0,-0.15,0.1,-0.25,0.35,0.1,-0.1,0.0,-0.05,0.2,0.25,0.15,0.05,0.2,0.15,0.25,-0.1,0.1,0.05,0.15,-0.1,0.2,-0.1,0.0,-0.1,-0.2,-0.25,-0.3]
beta_35 = [-0.2,-0.4,0.1,0.3,-0.43,-0.2,0.0,-0.1,0.0,-0.2,-0.15,-0.05,0.0,-0.3,-0.1,-0.2,-0.3,-0.32,-0.3,-0.35,-0.4,0.1,-0.05,-0.1,0.0,0.05,-0.1,0.2,-0.15,0.2,-0.15,-0.25,-0.2,0.0,0.1,0.05,0.0,-0.1,0.1,0.0,0.25,0.1,0.0,-0.1,-0.05,0.2,-0.1,-0.05,-0.25,0.15,0.1,0.0,-0.2,0.15,0.1,-0.25,-0.3]
alpha_36 = [-0.45,-0.2,0.2,0.1,-0.1,0.0,0.05,-0.1,-0.2,0.1,-0.3,0.43,-0.2,-0.35,-0.1,0.1,0.15,0.05,0.15,0.05,-0.15,-0.35,-0.3,0.0,0.1,0.2,0.0,0.2,0.15,0.43,0.2,0.35,0.3,0.2,-0.1,0.3,-0.15,-0.25,0.2,0.1,0.15,0.1,0.05,0.05,0.0,0.1,0.15,0.05,0.2,0.35,0.3,0.35,0.25,0.1,0.0,0.15,0.2]
beta_36 = [0.3,0.3,-0.2,0.35,0.25,0.2,0.25,0.0,0.1,-0.1,0.1,0.25,0.1,0.0,-0.2,0.3,-0.05,0.15,0.3,0.0,0.15,-0.2,0.35,0.0,0.1,0.2,-0.15,-0.2,0.0,-0.2,0.1,0.0,-0.15,-0.05,0.1,-0.2,-0.1,-0.05,0.0,0.1,0.05,-0.1,-0.05,0.0,0.05,-0.1,-0.35,-0.1,0.0,0.1,-0.2,-0.25,0.0,-0.1,0.15,0.05,0.0]

alpha_all = [alpha_01, alpha_02, alpha_03, alpha_04, alpha_05, alpha_06, alpha_07, alpha_08, alpha_09,
             alpha_10, alpha_11, alpha_12, alpha_13, alpha_14, alpha_15, alpha_16, alpha_17, alpha_18,
             alpha_19, alpha_20, alpha_21, alpha_22, alpha_23, alpha_24, alpha_25, alpha_26, alpha_27,
             alpha_28, alpha_29, alpha_30, alpha_31, alpha_32, alpha_33, alpha_34, alpha_35, alpha_36]
beta_all = [beta_01, beta_02, beta_03, beta_04, beta_05, beta_06, beta_07, beta_08, beta_09,
            beta_10, beta_11, beta_12, beta_13, beta_14, beta_15, beta_16, beta_17, beta_18,
            beta_19, beta_20, beta_21, beta_22, beta_23, beta_24, beta_25, beta_26, beta_27,
            beta_28, beta_29, beta_30, beta_31, beta_32, beta_33, beta_34, beta_35, beta_36]
subj_titles = [f'Subj {i}' for i in range(1, 37)]
x_ticks = [10, 20, 30, 40, 50]


def matlab_fmt(v, pos):
    v = round(v, 6)
    if v == 0:
        return '0'
    return f'{v:g}'


W, H = 1130, 700
fig = plt.figure(figsize=(W / 100, H / 100), dpi=100)

col_left = [64, 250, 434, 620, 805, 990]
row_top = [25, 133, 242, 350, 458, 567]
ax_w, ax_h = 142, 72

for i in range(36):
    r, c = divmod(i, 6)
    ax = fig.add_axes([col_left[c] / W, 1 - (row_top[r] + ax_h) / H, ax_w / W, ax_h / H])
    a = alpha_all[i]
    b = beta_all[i]
    ax.plot(np.arange(1, len(a) + 1), a, color='#1a1a1a', lw=0.6)
    ax.plot(np.arange(1, len(b) + 1), b, color='#ff0000', lw=0.6)
    ax.set_xlim(1, 57)
    ax.set_ylim(min(min(a), min(b)), max(max(a), max(b)))
    ax.set_xticks(x_ticks)
    ax.yaxis.set_major_locator(MultipleLocator(0.5 if i == 14 else 0.2))
    ax.yaxis.set_major_formatter(FuncFormatter(matlab_fmt))
    ax.tick_params(direction='in', length=2, width=0.5, labelsize=7.5,
                   colors='#404040', top=True, right=True, pad=2)
    for s in ax.spines.values():
        s.set_color('#8c8c8c')
        s.set_linewidth(0.8)
    ax.set_title(subj_titles[i], fontsize=8, fontweight='bold', pad=3)

fig.text(25 / W, 1 - 322 / H, 'Spatial Correlation', rotation=90,
         ha='center', va='center', fontsize=21)
fig.text(604 / W, 1 - 685 / H, 'Eigen Vectors Index', ha='center', va='center', fontsize=18)

handles = [Line2D([], [], color='#1a1a1a', lw=0.8), Line2D([], [], color='#ff0000', lw=0.8)]
fig.legend(handles, [r'$\alpha$ band', r'$\beta$ band'], loc='center left',
           bbox_to_anchor=(152 / W, 1 - 675 / H), ncol=2, frameon=False,
           fontsize=14, handlelength=1.5, handletextpad=0.2, columnspacing=0.4)

fig.savefig('out.png', dpi=100)
